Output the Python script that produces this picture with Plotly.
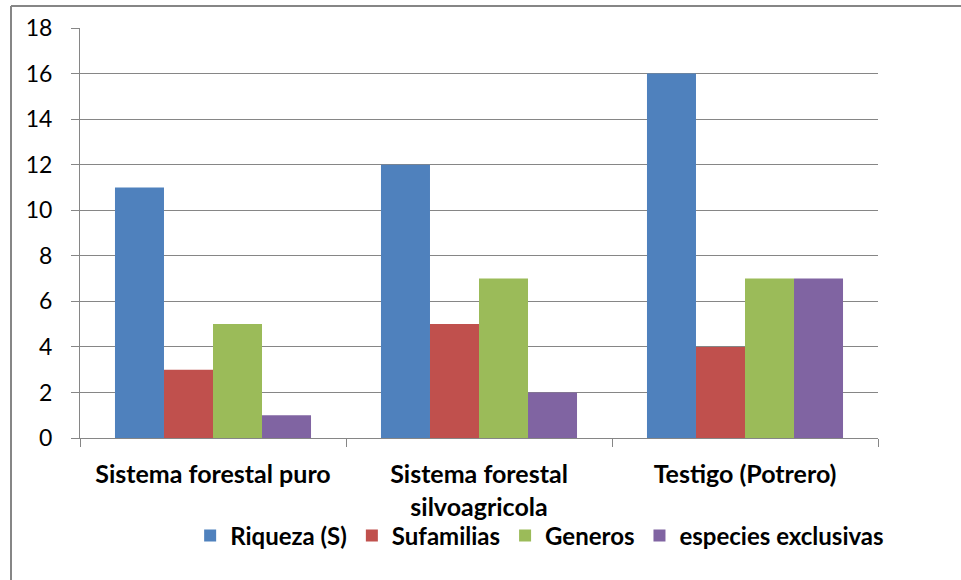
import plotly.graph_objects as go

categories = ["Sistema forestal puro", "Sistema forestal<br>silvoagricola", "Testigo (Potrero)"]
series_names = ["Riqueza (S)", "Sufamilias", "Generos", "especies exclusivas"]
riqueza = [11, 12, 16]
sufamilias = [3, 5, 4]
generos = [5, 7, 7]
exclusivas = [1, 2, 7]
colors = ["#4f81bd", "#c0504d", "#9bbb59", "#8064a2"]
y_ticks = [0, 2, 4, 6, 8, 10, 12, 14, 16, 18]

FONT = "Lato"
GRID = "#868686"

fig = go.Figure()
for name, vals, col in zip(series_names, [riqueza, sufamilias, generos, exclusivas], colors):
    fig.add_trace(go.Bar(x=categories, y=vals, name=name, marker=dict(color=col, line=dict(width=0))))

fig.update_layout(
    width=961, height=580,
    margin=dict(l=80, r=83, t=28, b=142),
    paper_bgcolor="white", plot_bgcolor="white",
    barmode="group", bargap=0.263, bargroupgap=0,
    font=dict(family=FONT, size=24, color="black"),
    legend=dict(orientation="h", x=0.576, xanchor="center", y=-0.239, yanchor="middle",
                font=dict(family=FONT, size=24, color="black", weight="bold"),
                itemwidth=30, tracegroupgap=0, bgcolor="rgba(0,0,0,0)"),
    xaxis=dict(type="category", tickson="boundaries", ticks="outside", ticklen=8, tickcolor=GRID,
               showline=True, linecolor=GRID, linewidth=1, showgrid=False, ticklabelstandoff=14,
               tickfont=dict(family=FONT, size=25, color="black", weight="bold")),
    yaxis=dict(range=[0, 18], tickvals=y_ticks, ticks="outside", ticklen=8, tickcolor=GRID,
               showline=True, linecolor=GRID, linewidth=1, showgrid=True, gridcolor=GRID,
               gridwidth=1, zeroline=False, ticklabelstandoff=14,
               tickfont=dict(family=FONT, size=23, color="black")),
    shapes=[
        dict(type="line", xref="paper", yref="paper", x0=(11 - 80) / 798, x1=(11 - 80) / 798,
             y0=1 + 22 / 410, y1=-142 / 410 - 0.01, line=dict(color=GRID, width=2)),
        dict(type="line", xref="paper", yref="paper", x0=(11 - 80) / 798, x1=1 + 83 / 798 + 0.01,
             y0=1 + 22 / 410, y1=1 + 22 / 410, line=dict(color=GRID, width=2)),
    ],
)

fig.write_html("out.html")
